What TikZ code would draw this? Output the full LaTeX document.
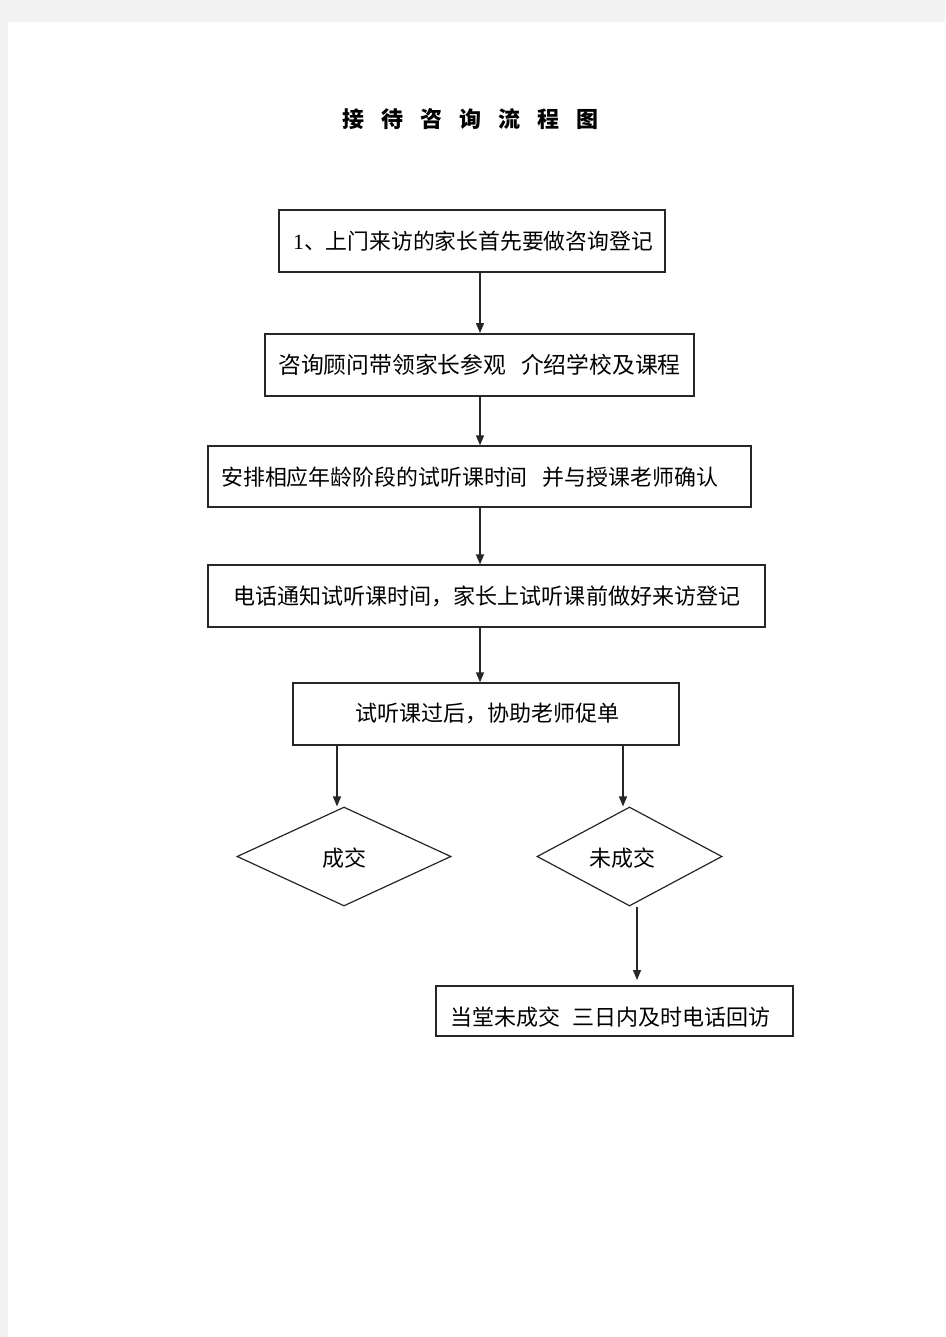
\documentclass[tikz,border=0pt]{standalone}
\usepackage{fontspec}
\setmainfont{Liberation Serif}
\newfontfamily\cjk{Noto Sans CJK SC}
\usetikzlibrary{arrows.meta,shapes.geometric,calc}
\newcommand{\tg}{\hspace{17pt}}
\begin{document}
\begin{tikzpicture}[x=1pt,y=-1pt,
  box/.style={draw=black!85, line width=1.3pt, rectangle, inner sep=0pt},
  thickbox/.style={box, line width=1.9pt},
  dia/.style={draw=black!85, line width=1.2pt, diamond, inner sep=0pt},
  txt/.style={font=\cjk\fontsize{#1}{#1}\selectfont, inner sep=0pt, anchor=west, text=black},
  ctxt/.style={txt=#1, anchor=center},
  arr/.style={draw=black!85, line width=1.4pt, -{Triangle[length=10pt,width=8pt]}}]
\fill[black!5] (0,0) rectangle (945,1337);
\fill[white] (8,22) rectangle (945,1337);
\useasboundingbox (0,0) rectangle (945,1337);
% title
\node[font=\cjk\bfseries\fontsize{22}{26}\selectfont, inner sep=0pt] (title) at (470.5,119) {接\tg 待\tg 咨\tg 询\tg 流\tg 程\tg 图};
% boxes
\node[thickbox, minimum width=386pt, minimum height=62pt] (b1) at (472,241) {};
\node[txt=21.8] (t1) at (293,241) {{\rmfamily 1}、上门来访的家长首先要做咨询登记};
\node[thickbox, minimum width=429pt, minimum height=62pt] (b2) at (479.5,365) {};
\node[txt=22.8] (t2) at (278,365) {咨询顾问带领家长参观\hspace{15pt}介绍学校及课程};
\node[box, minimum width=543pt, minimum height=61pt] (b3) at (479.5,476.5) {};
\node[txt=21.9] (t3) at (221,477) {安排相应年龄阶段的试听课时间\hspace{15pt}并与授课老师确认};
\node[box, minimum width=557pt, minimum height=62pt] (b4) at (486.5,596) {};
\node[txt=22.05] (t4) at (233,596) {电话通知试听课时间，家长上试听课前做好来访登记};
\node[box, minimum width=386pt, minimum height=62pt] (b5) at (486,714) {};
\node[txt=22] (t5) at (355,713) {试听课过后，协助老师促单};
\node[dia, minimum width=214pt, minimum height=99pt] (d1) at (344,856.5) {};
\node[ctxt=22] (td1) at (344,858) {成交};
\node[dia, minimum width=185pt, minimum height=99pt] (d2) at (629.5,856.5) {};
\node[ctxt=22] (td2) at (622,858) {未成交};
\node[box, line width=1.1pt, minimum width=357pt, minimum height=50pt] (b6) at (614.5,1011) {};
\node[txt=22] (t6) at (450,1017) {当堂未成交\hspace{12pt}三日内及时电话回访};
% connectors
\coordinate (ax) at (480,0);
\coordinate (al) at (337,0);
\coordinate (ar) at (623,0);
\coordinate (ad) at (637,0);
\coordinate (e6) at (637,980);
\draw[arr] (b1.south -| ax) -- (b2.north -| ax);
\draw[arr] (b2.south -| ax) -- (b3.north -| ax);
\draw[arr] (b3.south -| ax) -- (b4.north -| ax);
\draw[arr] (b4.south -| ax) -- (b5.north -| ax);
\draw[arr] (b5.south -| al) -- (d1.north -| al);
\draw[arr] (b5.south -| ar) -- (d2.north -| ar);
\draw[arr] (d2.south -| ad) -- (e6);
\end{tikzpicture}
\end{document}
